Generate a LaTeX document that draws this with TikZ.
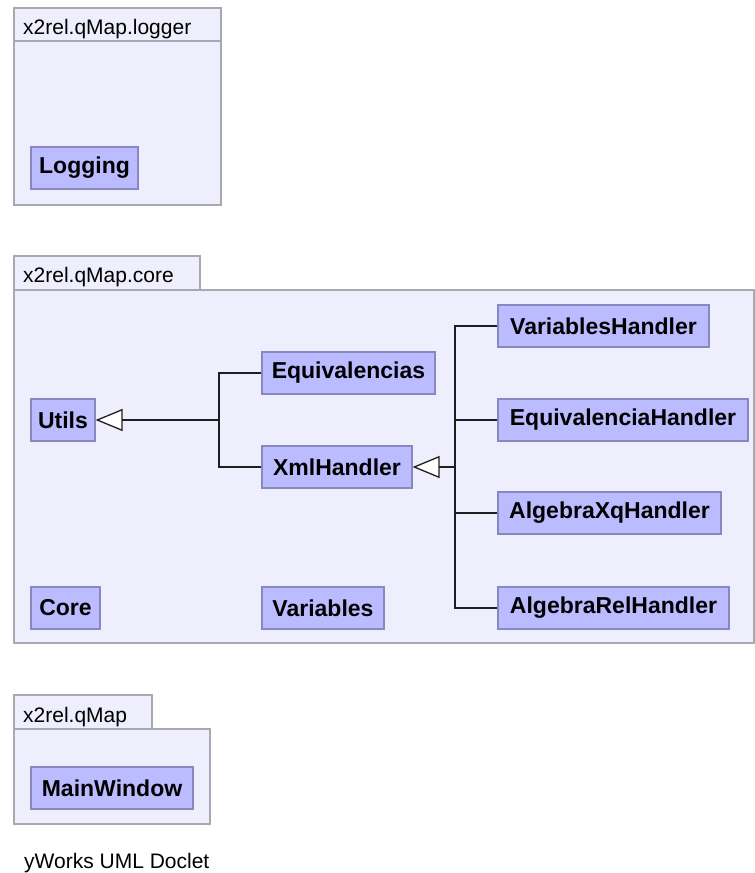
\documentclass[tikz,border=0pt]{standalone}
\usepackage{fontspec}
\setmainfont{Liberation Sans}
\usetikzlibrary{arrows.meta,positioning}
\definecolor{umlpkgfill}{RGB}{238,238,252}
\definecolor{umlpkgdraw}{RGB}{168,168,178}
\definecolor{umlclassfill}{RGB}{187,187,255}
\definecolor{umlclassdraw}{RGB}{136,136,190}
\definecolor{umlline}{RGB}{30,30,30}
\tikzstyle{package} = [draw=umlpkgdraw, fill=umlpkgfill, line width=1.2pt]
\tikzstyle{pkgtitle} = [anchor=base west, inner sep=0pt, font=\fontsize{21}{24}\selectfont]
\tikzstyle{umlclass} = [rectangle, draw=umlclassdraw, fill=umlclassfill, line width=1.2pt, minimum height=42pt, inner sep=0pt, font=\fontsize{23}{26}\selectfont\bfseries]
\tikzstyle{link} = [line width=1.3pt, color=umlline]
\tikzstyle{inherit} = [link, -{Triangle[length=27pt, width=22pt, fill=white]}]

\begin{document}
\begin{tikzpicture}[x=1pt, y=-1pt]
\useasboundingbox (0,0) rectangle (755,873);
% Packages
\draw[package] (14,8) rectangle (221,41);
\draw[package] (14,41) rectangle (221,205);
\node (loggertitle) [pkgtitle] at (23,34) {x2rel.qMap.logger};

\draw[package] (14,256) rectangle (200,290);
\draw[package] (14,290) rectangle (754,643);
\node (coretitle) [pkgtitle] at (23,282) {x2rel.qMap.core};

\draw[package] (14,695) rectangle (152,729);
\draw[package] (14,729) rectangle (210,824);
\node (qmaptitle) [pkgtitle] at (23,722) {x2rel.qMap};

% Classes
\node (logging) [umlclass, minimum width=107pt] at (84.5,168) {Logging};
\node (utils) [umlclass, minimum width=64pt] at (63,420) {Utils};
\node (equiv) [umlclass, minimum width=173pt] at (348.5,373) {Equivalencias};
\node (xml) [umlclass, minimum width=150pt] at (337,467) {XmlHandler};
\node (core) [umlclass, minimum width=69pt] at (65.5,608) {Core};
\node (vars) [umlclass, minimum width=122pt] at (323,608) {Variables};
\node (varh) [umlclass, minimum width=211pt] at (603.5,326) {VariablesHandler};
\node (equih) [umlclass, minimum width=250pt] at (623,420) {EquivalenciaHandler};
\node (algxq) [umlclass, minimum width=223pt] at (609.5,513) {AlgebraXqHandler};
\node (algrel) [umlclass, minimum width=231pt] at (613.5,608) {AlgebraRelHandler};
\node (mainwin) [umlclass, minimum width=162pt] at (112,788) {MainWindow};

% Generalisations
\coordinate (utilsjoin) at (219,420);
\coordinate (xmljoin) at (455,467);
\draw[link] (equiv.west) -| (utilsjoin);
\draw[link] (xml.west) -| (utilsjoin);
\draw[inherit] (utilsjoin) -- (utils.east);
\foreach \h in {varh,equih,algxq,algrel}
  \draw[link] (\h.west) -| (xmljoin);
\draw[inherit] (xmljoin) -- (xml.east);

\node (doclet) [pkgtitle] at (24,868) {yWorks UML Doclet};
\end{tikzpicture}
\end{document}
